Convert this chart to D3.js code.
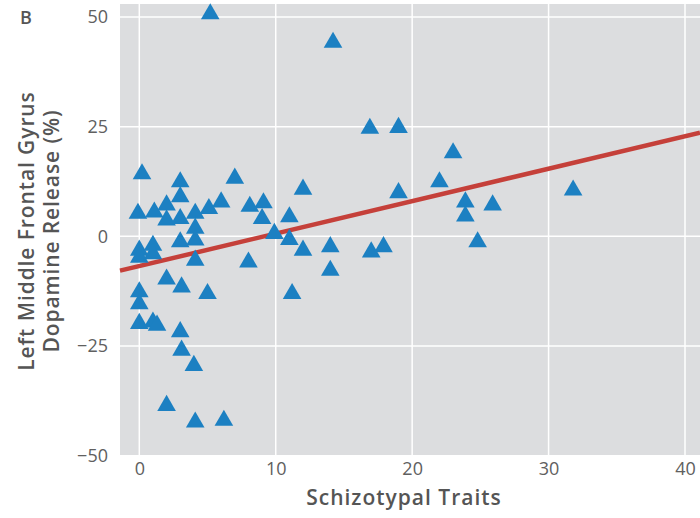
<!DOCTYPE html>
<html>
<head>
<meta charset="utf-8">
<script src="https://cdn.jsdelivr.net/npm/d3@7"></script>
<style>
  html, body { margin: 0; padding: 0; background: #fff; }
  svg { display: block; font-family: "Open Sans", "Noto Sans", sans-serif; }
</style>
</head>
<body>
<svg id="chart" width="700" height="518"></svg>
<script>
// Schizotypal trait scores (x) and dopamine release in left middle frontal gyrus (y, %)
const traits = [
  0.2, 3.0, 7.0, 3.0, -0.1, 1.1, 2.0, 2.0, 3.0, 4.1,
  5.1, 6.0, 4.1, 3.0, 4.1, 0.0, 0.0, 1.0, 1.0, 4.1,
  2.0, 12.0, 8.1, 9.1, 9.0, 11.0, 9.9, 11.0, 12.0, 14.0,
  8.0, 14.0, 11.2, 0.0, 0.0, 3.1, 5.0, 0.0, 1.0, 1.3,
  3.0, 3.1, 4.0, 2.0, 4.1, 6.2, 16.9, 19.0, 23.0, 22.0,
  19.0, 31.8, 23.9, 25.9, 23.9, 24.8, 17.0, 17.9, 5.2, 14.2
];
const release = [
  14.2, 12.4, 13.2, 9.0, 5.2, 5.5, 7.1, 3.7, 4.0, 5.2,
  6.3, 7.8, 1.8, -1.3, -0.9, -3.2, -4.8, -2.1, -4.0, -5.5,
  -9.8, 10.7, 6.8, 7.6, 4.0, 4.4, 0.6, -0.75, -3.2, -2.4,
  -5.9, -7.8, -13.1, -12.7, -15.4, -11.6, -13.1, -19.9, -19.6, -20.3,
  -21.8, -26.0, -29.5, -38.6, -42.4, -42.0, 24.6, 24.8, 19.0, 12.4,
  9.9, 10.5, 7.8, 7.1, 4.6, -1.3, -3.6, -2.4, 50.7, 44.2
];
const xTicks = [0, 10, 20, 30, 40];
const yTicks = [50, 25, 0, -25, -50];
// Fitted regression line: intercept and slope
const fitIntercept = -6.8;
const fitSlope = 0.74;

const svg = d3.select("#chart");
const plot = { left: 120, right: 700, top: 4, bottom: 455 };

const x = d3.scaleLinear().domain([0, 40]).range([139.3, 685]);
const y = d3.scaleLinear().domain([-50, 50]).range([455.5, 17]);
const xMin = x.invert(plot.left), xMax = x.invert(plot.right);

// Panel background
svg.append("rect")
  .attr("x", plot.left).attr("y", plot.top)
  .attr("width", plot.right - plot.left).attr("height", plot.bottom - plot.top)
  .attr("fill", "#dcdddf");

// Grid lines
svg.append("g").selectAll("line").data(xTicks).join("line")
  .attr("x1", d => x(d)).attr("x2", d => x(d))
  .attr("y1", plot.top).attr("y2", plot.bottom)
  .attr("stroke", "#fff").attr("stroke-width", 1.5);
svg.append("g").selectAll("line").data(yTicks.filter(d => y(d) < plot.bottom - 1)).join("line")
  .attr("x1", plot.left).attr("x2", plot.right)
  .attr("y1", d => y(d)).attr("y2", d => y(d))
  .attr("stroke", "#fff").attr("stroke-width", 1.5);

// Axes (labels only)
const xAxis = svg.append("g")
  .attr("transform", `translate(0,${plot.bottom + 4})`)
  .call(d3.axisBottom(x).tickValues(xTicks).tickSize(0).tickPadding(3));
const yAxis = svg.append("g")
  .attr("transform", `translate(${plot.left - 12},0)`)
  .call(d3.axisLeft(y).tickValues(yTicks).tickSize(0).tickPadding(0)
    .tickFormat(d => d < 0 ? "\u2212" + Math.abs(d) : String(d)));
[xAxis, yAxis].forEach(a => {
  a.select(".domain").remove();
  a.selectAll("text")
    .attr("fill", "#606060")
    .style("font-size", "18px")
    .style("font-family", "'Open Sans', 'Noto Sans', sans-serif");
});

// Regression line
svg.append("line")
  .attr("x1", x(xMin)).attr("y1", y(fitIntercept + fitSlope * xMin))
  .attr("x2", x(xMax)).attr("y2", y(fitIntercept + fitSlope * xMax))
  .attr("stroke", "#c5403a").attr("stroke-width", 4.5);

// Data points
const points = traits.map((t, i) => ({ t, r: release[i] }));
svg.append("g").selectAll("path").data(points).join("path")
  .attr("d", d3.symbol(d3.symbolTriangle, 150))
  .attr("transform", d => `translate(${x(d.t)},${y(d.r)})`)
  .attr("fill", "#1c80c2");

// Axis titles
svg.append("text")
  .attr("x", 404).attr("y", 505)
  .attr("text-anchor", "middle")
  .attr("fill", "#555")
  .style("font-size", "21px").style("font-weight", 600)
  .style("letter-spacing", "1px")
  .text("Schizotypal Traits");

const yTitle = svg.append("text")
  .attr("transform", "translate(0,231) rotate(-90)")
  .attr("text-anchor", "middle")
  .attr("fill", "#555")
  .style("font-size", "21px").style("font-weight", 600)
  .style("letter-spacing", "0.9px");
yTitle.append("tspan").attr("x", 0).attr("y", 34).text("Left Middle Frontal Gyrus");
yTitle.append("tspan").attr("x", 0).attr("y", 59).text("Dopamine Release (%)");

// Panel letter
svg.append("text")
  .attr("x", 20).attr("y", 24)
  .attr("fill", "#555")
  .style("font-size", "18px").style("font-weight", 600)
  .text("B");
</script>
</body>
</html>
